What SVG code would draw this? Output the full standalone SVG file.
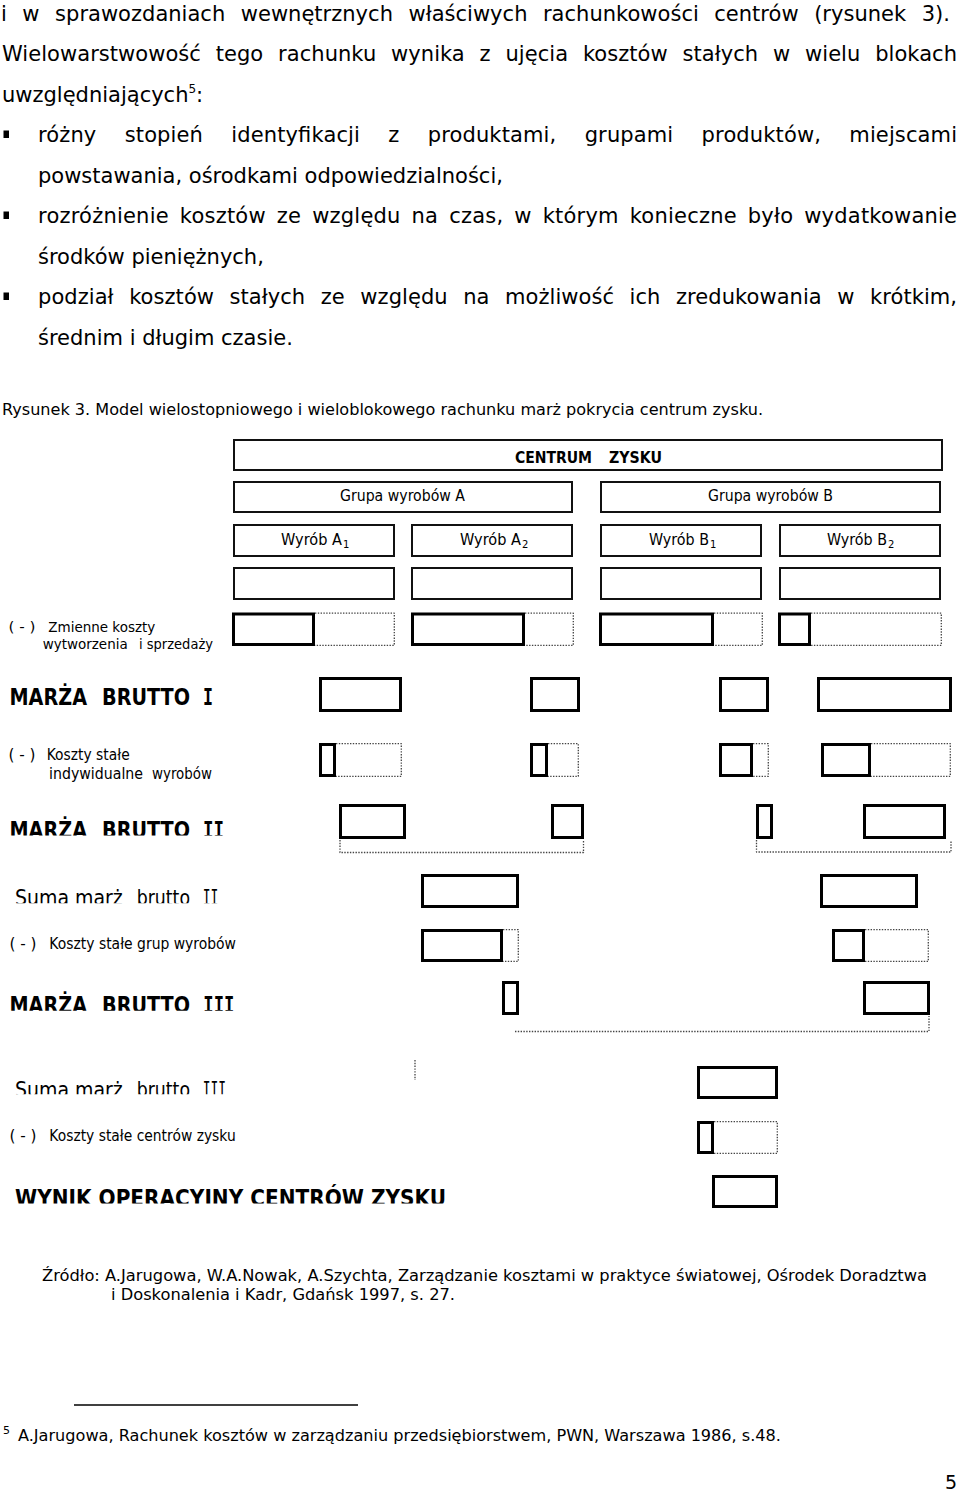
<svg xmlns="http://www.w3.org/2000/svg" width="960" height="1497" viewBox="0 0 960 1497">
<defs>
<style>
text{font-family:"DejaVu Sans","Liberation Sans",sans-serif;fill:#000}
.b{font-size:21px}
.cap{font-size:16px}
.lab{font-size:15.5px}
.lab2{font-size:14px}
.hl{font-size:15px}
.hb{font-size:16px;font-weight:bold}
.big{font-size:22.5px;font-weight:bold}
.sum{font-size:22px}
.mono{font-family:"DejaVu Sans Mono","Liberation Mono",monospace}
.hdr{fill:#fff;stroke:#111;stroke-width:2}
.s{fill:#fff;stroke:#000;stroke-width:3}
.d{fill:none;stroke:#444;stroke-width:1.3;stroke-dasharray:1.4 1.4;stroke-linejoin:round}
.blt{fill:#000}
</style>
<clipPath id="cMB2"><rect x="0" y="800" width="320" height="35.5"/></clipPath>
<clipPath id="cS2"><rect x="0" y="870" width="320" height="33.3"/></clipPath>
<clipPath id="cMB3"><rect x="0" y="980" width="320" height="30.7"/></clipPath>
<clipPath id="cS3"><rect x="0" y="1060" width="320" height="34.3"/></clipPath>
<clipPath id="cW"><rect x="0" y="1170" width="520" height="33.5"/></clipPath>
</defs>
<rect x="0" y="0" width="960" height="1497" fill="#fff"/>

<g id="body-text">
<text class="b" x="1" y="20.5" word-spacing="8.8" textLength="949" lengthAdjust="spacing">i w sprawozdaniach wewnętrznych właściwych rachunkowości centrów (rysunek 3).</text>
<text class="b" x="2" y="61" word-spacing="8.1" textLength="955" lengthAdjust="spacing">Wielowarstwowość tego rachunku wynika z ujęcia kosztów stałych w wielu blokach</text>
<text class="b" x="2" y="101.5">uwzględniających<tspan font-size="12" dy="-9">5</tspan><tspan dy="9">:</tspan></text>
<rect class="blt" x="3.5" y="130.5" width="5.5" height="7.5"/>
<text class="b" x="38" y="142" word-spacing="21.5" textLength="919" lengthAdjust="spacing">różny stopień identyfikacji z produktami, grupami produktów, miejscami</text>
<text class="b" x="38" y="182.5">powstawania, ośrodkami odpowiedzialności,</text>
<rect class="blt" x="3.5" y="211.5" width="5.5" height="7.5"/>
<text class="b" x="38" y="223" word-spacing="4.1" textLength="919" lengthAdjust="spacing">rozróżnienie kosztów ze względu na czas, w którym konieczne było wydatkowanie</text>
<text class="b" x="38" y="263.5">środków pieniężnych,</text>
<rect class="blt" x="3.5" y="292.5" width="5.5" height="7.5"/>
<text class="b" x="38" y="304" word-spacing="8.8" textLength="919" lengthAdjust="spacing">podział kosztów stałych ze względu na możliwość ich zredukowania w krótkim,</text>
<text class="b" x="38" y="344.5">średnim i długim czasie.</text>
<text class="cap" x="2" y="414.5" textLength="761" lengthAdjust="spacingAndGlyphs">Rysunek 3. Model wielostopniowego i wieloblokowego rachunku marż pokrycia centrum zysku.</text>
</g>

<g id="centrum-zysku">
<rect class="hdr" x="234" y="440" width="708" height="30"/>
<text class="hb" x="515" y="463" textLength="77" lengthAdjust="spacingAndGlyphs">CENTRUM</text>
<text class="hb" x="609" y="463" textLength="53" lengthAdjust="spacingAndGlyphs">ZYSKU</text>
</g>
<g id="grupa-a">
<rect class="hdr" x="234" y="482" width="338" height="30"/>
<text class="hl" x="340" y="501" textLength="125" lengthAdjust="spacingAndGlyphs">Grupa wyrobów A</text>
</g>
<g id="grupa-b">
<rect class="hdr" x="601" y="482" width="339" height="30"/>
<text class="hl" x="708" y="501" textLength="125" lengthAdjust="spacingAndGlyphs">Grupa wyrobów B</text>
</g>
<g id="wyrob-a1">
<rect class="hdr" x="234" y="525" width="160" height="31"/>
<text class="hl" x="281" y="545" textLength="61" lengthAdjust="spacingAndGlyphs">Wyrób A</text>
<text x="343" y="548" font-size="10">1</text>
</g>
<g id="wyrob-a2">
<rect class="hdr" x="412" y="525" width="160" height="31"/>
<text class="hl" x="460" y="545" textLength="61" lengthAdjust="spacingAndGlyphs">Wyrób A</text>
<text x="522" y="548" font-size="10">2</text>
</g>
<g id="wyrob-b1">
<rect class="hdr" x="601" y="525" width="160" height="31"/>
<text class="hl" x="649" y="545" textLength="60" lengthAdjust="spacingAndGlyphs">Wyrób B</text>
<text x="710" y="548" font-size="10">1</text>
</g>
<g id="wyrob-b2">
<rect class="hdr" x="780" y="525" width="160" height="31"/>
<text class="hl" x="827" y="545" textLength="60" lengthAdjust="spacingAndGlyphs">Wyrób B</text>
<text x="888" y="548" font-size="10">2</text>
</g>
<g id="puste">
<rect class="hdr" x="234" y="568" width="160" height="31"/>
<rect class="hdr" x="412" y="568" width="160" height="31"/>
<rect class="hdr" x="601" y="568" width="160" height="31"/>
<rect class="hdr" x="780" y="568" width="160" height="31"/>
</g>

<g id="label-zmienne">
<text class="lab2" x="8.5" y="632" textLength="27" lengthAdjust="spacingAndGlyphs">( - )</text>
<text class="lab2" x="48.3" y="632" textLength="107" lengthAdjust="spacingAndGlyphs">Zmienne koszty</text>
<text class="lab2" x="42.7" y="649" textLength="85" lengthAdjust="spacingAndGlyphs">wytworzenia</text>
<text class="lab2" x="139" y="649" textLength="74" lengthAdjust="spacingAndGlyphs">i sprzedaży</text>
</g>
<g id="zmienne">
<rect class="s" x="233.5" y="614" width="80" height="30.5"/>
<path class="d" d="M315 613.2 H394.3 V645.3 H315"/>
<rect class="s" x="412.5" y="614" width="111" height="30.5"/>
<path class="d" d="M525 613.2 H573.3 V645.3 H525"/>
<rect class="s" x="600.5" y="614" width="112" height="30.5"/>
<path class="d" d="M714 613.2 H762.3 V645.3 H714"/>
<rect class="s" x="779.5" y="614" width="30" height="30.5"/>
<path class="d" d="M811 613.2 H941.3 V645.3 H811"/>
</g>

<g id="label-mb1">
<text class="big" x="9.5" y="705" textLength="77.5" lengthAdjust="spacingAndGlyphs">MARŻA</text>
<text class="big" x="102" y="705" textLength="88" lengthAdjust="spacingAndGlyphs">BRUTTO</text>
<text class="big mono" x="203" y="705" textLength="10" lengthAdjust="spacingAndGlyphs">I</text>
</g>
<g id="marza-brutto-1">
<rect class="s" x="320.5" y="678.5" width="80" height="32"/>
<rect class="s" x="531.5" y="678.5" width="47" height="32"/>
<rect class="s" x="720.5" y="678.5" width="47" height="32"/>
<rect class="s" x="818.5" y="678.5" width="132" height="32"/>
</g>

<g id="label-ks-indyw">
<text class="lab" x="8.5" y="760" textLength="27" lengthAdjust="spacingAndGlyphs">( - )</text>
<text class="lab" x="46.7" y="760" textLength="83" lengthAdjust="spacingAndGlyphs">Koszty stałe</text>
<text class="lab" x="49" y="779" textLength="94" lengthAdjust="spacingAndGlyphs">indywidualne</text>
<text class="lab" x="152" y="779" textLength="60" lengthAdjust="spacingAndGlyphs">wyrobów</text>
</g>
<g id="koszty-indywidualne">
<rect class="s" x="320.5" y="744.5" width="14" height="31"/>
<path class="d" d="M336 743.7 H401.3 V776.3 H336"/>
<rect class="s" x="531.5" y="744.5" width="15" height="31"/>
<path class="d" d="M548 743.7 H578.3 V776.3 H548"/>
<rect class="s" x="720.5" y="744.5" width="31" height="31"/>
<path class="d" d="M753 743.7 H768.3 V776.3 H753"/>
<rect class="s" x="822.5" y="744.5" width="47" height="31"/>
<path class="d" d="M871 743.7 H950.3 V776.3 H871"/>
</g>

<g id="label-mb2" clip-path="url(#cMB2)">
<text class="big" x="9.5" y="838" textLength="77.5" lengthAdjust="spacingAndGlyphs">MARŻA</text>
<text class="big" x="102" y="838" textLength="88" lengthAdjust="spacingAndGlyphs">BRUTTO</text>
<text class="big mono" x="203" y="838" textLength="21" lengthAdjust="spacingAndGlyphs">II</text>
</g>
<g id="marza-brutto-2">
<rect class="s" x="340.5" y="805.5" width="64" height="32"/>
<rect class="s" x="552.5" y="805.5" width="30" height="32"/>
<rect class="s" x="757.5" y="805.5" width="14" height="32"/>
<rect class="s" x="864.5" y="805.5" width="80" height="32"/>
</g>

<g id="label-suma2" clip-path="url(#cS2)">
<text class="sum" x="15" y="905.3" textLength="107.7" lengthAdjust="spacingAndGlyphs">Suma marż</text>
<text class="sum" x="136.7" y="905.3" textLength="53.3" lengthAdjust="spacingAndGlyphs">brutto</text>
<text class="sum mono" x="202.7" y="905.3" textLength="15.6" lengthAdjust="spacingAndGlyphs">II</text>
</g>
<g id="suma-2">
<rect class="s" x="422.5" y="875.5" width="95" height="31"/>
<rect class="s" x="821.5" y="875.5" width="95" height="31"/>
</g>

<g id="label-ks-grup">
<text class="lab" x="9.5" y="949" textLength="27" lengthAdjust="spacingAndGlyphs">( - )</text>
<text class="lab" x="49.3" y="949" textLength="186.7" lengthAdjust="spacingAndGlyphs">Koszty stałe grup wyrobów</text>
</g>
<g id="koszty-grup">
<rect class="s" x="422.5" y="930.5" width="79" height="30"/>
<path class="d" d="M503 929.7 H518.3 V961.3 H503"/>
<rect class="s" x="833.5" y="930.5" width="30" height="30"/>
<path class="d" d="M865 929.7 H928.3 V961.3 H865"/>
</g>

<g id="label-mb3" clip-path="url(#cMB3)">
<text class="big" x="9.5" y="1013.1" textLength="77.5" lengthAdjust="spacingAndGlyphs">MARŻA</text>
<text class="big" x="102" y="1013.1" textLength="88" lengthAdjust="spacingAndGlyphs">BRUTTO</text>
<text class="big mono" x="203.3" y="1013.1" textLength="31" lengthAdjust="spacingAndGlyphs">III</text>
</g>
<g id="marza-brutto-3">
<rect class="s" x="503.5" y="982.5" width="14" height="31"/>
<rect class="s" x="864.5" y="982.5" width="64" height="31"/>
</g>

<g id="label-suma3" clip-path="url(#cS3)">
<text class="sum" x="15" y="1096.7" textLength="107.7" lengthAdjust="spacingAndGlyphs">Suma marż</text>
<text class="sum" x="136.7" y="1096.7" textLength="53.3" lengthAdjust="spacingAndGlyphs">brutto</text>
<text class="sum mono" x="202.7" y="1096.7" textLength="23.3" lengthAdjust="spacingAndGlyphs">III</text>
</g>
<g id="suma-3">
<rect class="s" x="698.5" y="1067.5" width="78" height="30"/>
</g>

<g id="label-ks-centrow">
<text class="lab" x="9.5" y="1141" textLength="27" lengthAdjust="spacingAndGlyphs">( - )</text>
<text class="lab" x="49.3" y="1141" textLength="186.4" lengthAdjust="spacingAndGlyphs">Koszty stałe centrów zysku</text>
</g>
<g id="koszty-centrow">
<rect class="s" x="698.5" y="1122.5" width="14" height="30"/>
<path class="d" d="M714 1121.7 H777.3 V1153.3 H714"/>
</g>

<g id="label-wynik" clip-path="url(#cW)">
<text class="big" x="15" y="1206.4" textLength="431" lengthAdjust="spacingAndGlyphs">WYNIK OPERACYJNY CENTRÓW ZYSKU</text>
</g>
<g id="wynik">
<rect class="s" x="713.5" y="1176.5" width="63" height="30"/>
</g>

<g id="connectors">
<path class="d" d="M340 840 V852.5 H583.5 V840"/>
<path class="d" d="M756.5 840 V852 H951 V840"/>
<path class="d" d="M515 1031.5 H929 V1016"/>
<path class="d" d="M415 1060 V1080"/>
</g>

<g id="source-text">
<text class="cap" x="42" y="1280.5" textLength="885" lengthAdjust="spacingAndGlyphs">Źródło: A.Jarugowa, W.A.Nowak, A.Szychta, Zarządzanie kosztami w praktyce światowej, Ośrodek Doradztwa</text>
<text class="cap" x="111" y="1299.5" textLength="344" lengthAdjust="spacingAndGlyphs">i Doskonalenia i Kadr, Gdańsk 1997, s. 27.</text>
</g>
<g id="footnote">
<line x1="74" y1="1405" x2="358" y2="1405" stroke="#000" stroke-width="1.3"/>
<text x="3" y="1434" font-size="11">5</text>
<text class="cap" x="18" y="1440.5" textLength="763" lengthAdjust="spacingAndGlyphs">A.Jarugowa, Rachunek kosztów w zarządzaniu przedsiębiorstwem, PWN, Warszawa 1986, s.48.</text>
<text x="945" y="1489" font-size="19">5</text>
</g>
</svg>
